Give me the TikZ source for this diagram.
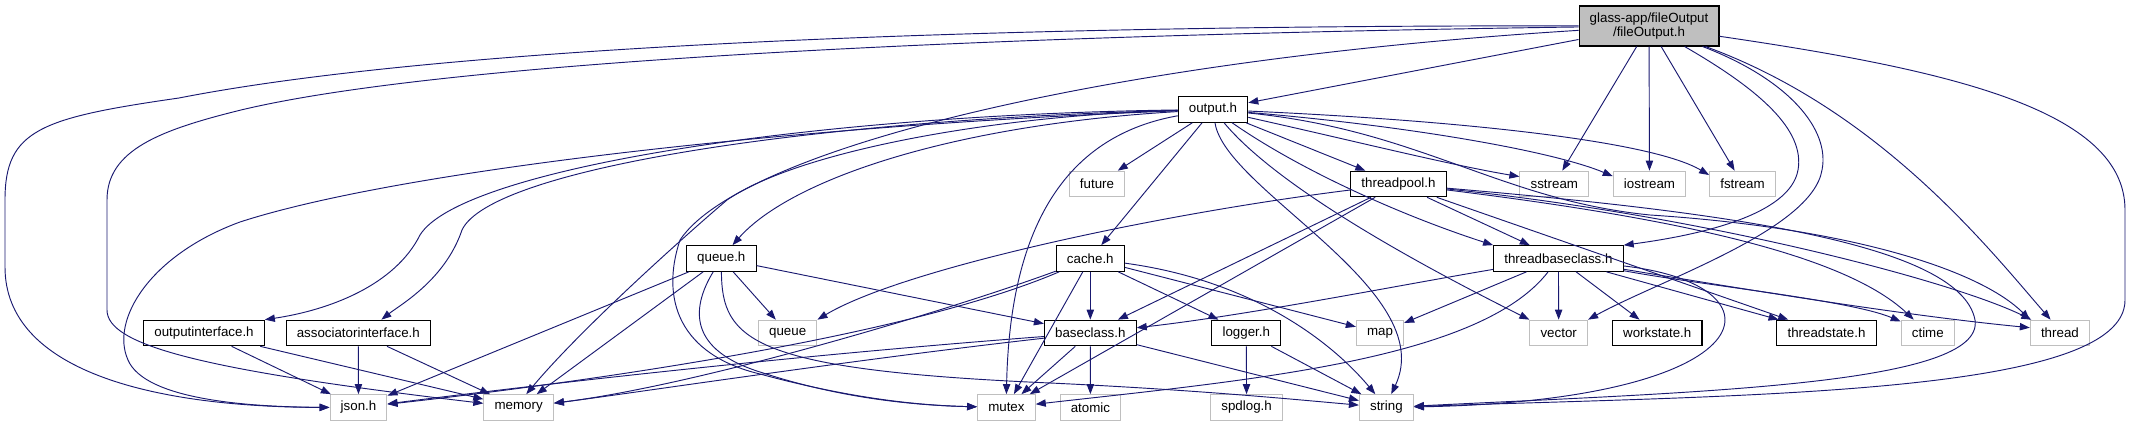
\documentclass[tikz,border=0pt]{standalone}
\usepackage{fontspec}
\setmainfont{Liberation Sans}
\usetikzlibrary{arrows.meta}
\definecolor{edgeblue}{HTML}{191970}
\definecolor{grey75}{HTML}{BFBFBF}

\begin{document}
\begin{tikzpicture}[x=0.75pt, y=-0.75pt, font=\fontsize{10}{12}\selectfont,
  every node/.style={align=center},
  projbox/.style={draw=black, fill=white, line width=0.8pt, inner xsep=8pt, inner ysep=0pt, minimum height=19.2pt},
  sysbox/.style={projbox, draw=grey75},
  rootbox/.style={projbox, fill=grey75, minimum height=30pt, font=\fontsize{10}{10.5}\selectfont},
  dep/.style={draw=edgeblue, line width=0.7pt, -{Triangle[length=7.5pt, width=5.5pt]}}]
  \useasboundingbox (0,0) rectangle (2133,427);

  \node[rootbox] (root) at (1649,26) {glass-app/fileOutput\\/fileOutput.h};
  \node[projbox] (output) at (1213,109.5) {output.h};
  \node[sysbox] (future) at (1097,184) {future};
  \node[projbox] (threadpool) at (1398.5,184) {threadpool.h};
  \node[sysbox] (sstream) at (1554.3,184) {sstream};
  \node[sysbox] (iostream) at (1649.5,184) {iostream};
  \node[sysbox] (fstream) at (1742.5,184) {fstream};
  \node[projbox] (queueh) at (721.3,258.5) {queue.h};
  \node[projbox] (cache) at (1090.3,258.5) {cache.h};
  \node[projbox] (tbc) at (1558.4,258.5) {threadbaseclass.h};
  \node[projbox] (outif) at (204,333) {outputinterface.h};
  \node[projbox] (associf) at (358.3,333) {associatorinterface.h};
  \node[sysbox] (queue) at (787.7,333) {queue};
  \node[projbox] (baseclass) at (1090.3,333) {baseclass.h};
  \node[projbox] (logger) at (1246.3,333) {logger.h};
  \node[sysbox] (map) at (1380,333) {map};
  \node[sysbox] (vector) at (1558.7,333) {vector};
  \node[projbox] (workstate) at (1657.2,333) {workstate.h};
  \node[projbox] (threadstate) at (1826.5,333) {threadstate.h};
  \node[sysbox] (ctime) at (1927.8,333) {ctime};
  \node[sysbox] (thread) at (2059.9,333) {thread};
  \node[sysbox] (json) at (358.5,407.5) {json.h};
  \node[sysbox] (memory) at (518.6,407.5) {memory};
  \node[sysbox] (mutex) at (1006.4,407.5) {mutex};
  \node[sysbox] (atomic) at (1090.4,407.5) {atomic};
  \node[sysbox] (spdlog) at (1246.6,407.5) {spdlog.h};
  \node[sysbox] (string) at (1386.4,407.5) {string};

  \draw[dep] (root) -- (output);
  \draw[dep] (root) .. controls (1000,25) and (450,45) .. (179,98)
    .. controls (40,118) and (5,130) .. (5,200) -- (5,267)
    .. controls (5,370) and (150,407) .. (json);
  \draw[dep] (root) .. controls (1000,35) and (450,60) .. (241,110)
    .. controls (160,130) and (107,150) .. (107,200) -- (107,310)
    .. controls (107,345) and (200,370) .. (memory);
  \draw[dep] (root) .. controls (1100,60) and (740,150) .. (680,240)
    .. controls (660,300) and (680,355) .. (760,374)
    .. controls (830,393) and (900,405) .. (mutex);
  \draw[dep] (root) -- (sstream);
  \draw[dep] (root) -- (iostream);
  \draw[dep] (root) -- (fstream);
  \draw[dep] (root) .. controls (1760,90) and (1805,130) .. (1798,170)
    .. controls (1790,215) and (1700,235) .. (tbc.north east);
  \draw[dep] (root) .. controls (1790,80) and (1830,130) .. (1822,170)
    .. controls (1812,230) and (1660,280) .. (vector.north east);
  \draw[dep] (root) .. controls (1880,110) and (1990,250) .. (thread.125);
  \draw[dep] (root) .. controls (1950,70) and (2125,110) .. (2125,210) -- (2125,300)
    .. controls (2125,395) and (1750,395) .. (string);

  \draw[dep] (output) -- (future);
  \draw[dep] (output) -- (cache);
  \draw[dep] (output) -- (threadpool);
  \draw[dep] (output) .. controls (800,115) and (460,170) .. (420,235)
    .. controls (395,285) and (330,310) .. (outif.north east);
  \draw[dep] (output) .. controls (800,120) and (490,170) .. (462,230)
    .. controls (445,280) and (400,305) .. (associf.30);
  \draw[dep] (output) .. controls (800,125) and (400,170) .. (240,222)
    .. controls (150,255) and (110,320) .. (128,360)
    .. controls (145,400) and (250,407) .. (json);
  \draw[dep] (output) .. controls (1000,115) and (800,150) .. (727,200)
    .. controls (680,240) and (580,330) .. (memory.60);
  \draw[dep] (output) .. controls (950,125) and (790,180) .. (queueh.50);
  \draw[dep] (output) .. controls (1070,135) and (1010,220) .. (mutex.north);
  \draw[dep] (output) .. controls (1350,140) and (1450,165) .. (sstream.168);
  \draw[dep] (output) .. controls (1400,125) and (1550,150) .. (iostream.168);
  \draw[dep] (output) .. controls (1450,120) and (1650,140) .. (fstream.165);
  \draw[dep] (output) .. controls (1300,170) and (1400,215) .. (tbc.north west);
  \draw[dep] (output) .. controls (1280,190) and (1430,270) .. (vector.north west);
  \draw[dep] (output) .. controls (1225,190) and (1440,290) .. (string.70);
  \draw[dep] (output) .. controls (1420,130) and (1500,200) .. (1650,215)
    .. controls (1850,228) and (1980,270) .. (thread.north west);

  \draw[dep] (threadpool) .. controls (1150,215) and (900,270) .. (queue.north east);
  \draw[dep] (threadpool) -- (baseclass);
  \draw[dep] (threadpool) -- (mutex);
  \draw[dep] (threadpool) -- (tbc);
  \draw[dep] (threadpool) -- (threadstate);
  \draw[dep] (threadpool) .. controls (1650,215) and (1840,250) .. (ctime);
  \draw[dep] (threadpool) .. controls (1700,215) and (1950,280) .. (thread.155);
  \draw[dep] (threadpool) .. controls (1700,210) and (1960,240) .. (1975,320)
    .. controls (1985,385) and (1700,392) .. (string);

  \draw[dep] (tbc) .. controls (1400,285) and (1250,315) .. (baseclass);
  \draw[dep] (tbc) -- (map);
  \draw[dep] (tbc) .. controls (1480,360) and (1250,380) .. (mutex);
  \draw[dep] (tbc) -- (vector);
  \draw[dep] (tbc) -- (workstate);
  \draw[dep] (tbc) -- (threadstate);
  \draw[dep] (tbc) .. controls (1700,285) and (1850,300) .. (ctime);
  \draw[dep] (tbc) .. controls (1750,290) and (1900,315) .. (thread.170);
  \draw[dep] (tbc) .. controls (1790,285) and (1770,400) .. (string);

  \draw[dep] (queueh) -- (json);
  \draw[dep] (queueh) -- (memory);
  \draw[dep] (queueh) .. controls (690,310) and (690,350) .. (760,372)
    .. controls (830,395) and (900,405) .. (mutex);
  \draw[dep] (queueh) -- (queue);
  \draw[dep] (queueh) -- (baseclass);
  \draw[dep] (queueh) .. controls (722,340) and (750,370) .. (1050,383)
    .. controls (1200,390) and (1300,400) .. (string);

  \draw[dep] (cache) -- (baseclass);
  \draw[dep] (cache) -- (logger);
  \draw[dep] (cache) -- (map);
  \draw[dep] (cache) .. controls (1250,280) and (1330,340) .. (string);
  \draw[dep] (cache) -- (mutex);
  \draw[dep] (cache) .. controls (950,310) and (700,385) .. (memory);
  \draw[dep] (cache) .. controls (900,340) and (560,385) .. (json);

  \draw[dep] (baseclass) .. controls (800,355) and (560,382) .. (json);
  \draw[dep] (baseclass) .. controls (850,360) and (620,395) .. (memory);
  \draw[dep] (baseclass) -- (mutex);
  \draw[dep] (baseclass) -- (atomic);
  \draw[dep] (baseclass) -- (string);

  \draw[dep] (logger) -- (spdlog);
  \draw[dep] (logger) -- (string);

  \draw[dep] (outif) -- (json);
  \draw[dep] (outif) -- (memory);
  \draw[dep] (associf) -- (json);
  \draw[dep] (associf) -- (memory);
\end{tikzpicture}
\end{document}
